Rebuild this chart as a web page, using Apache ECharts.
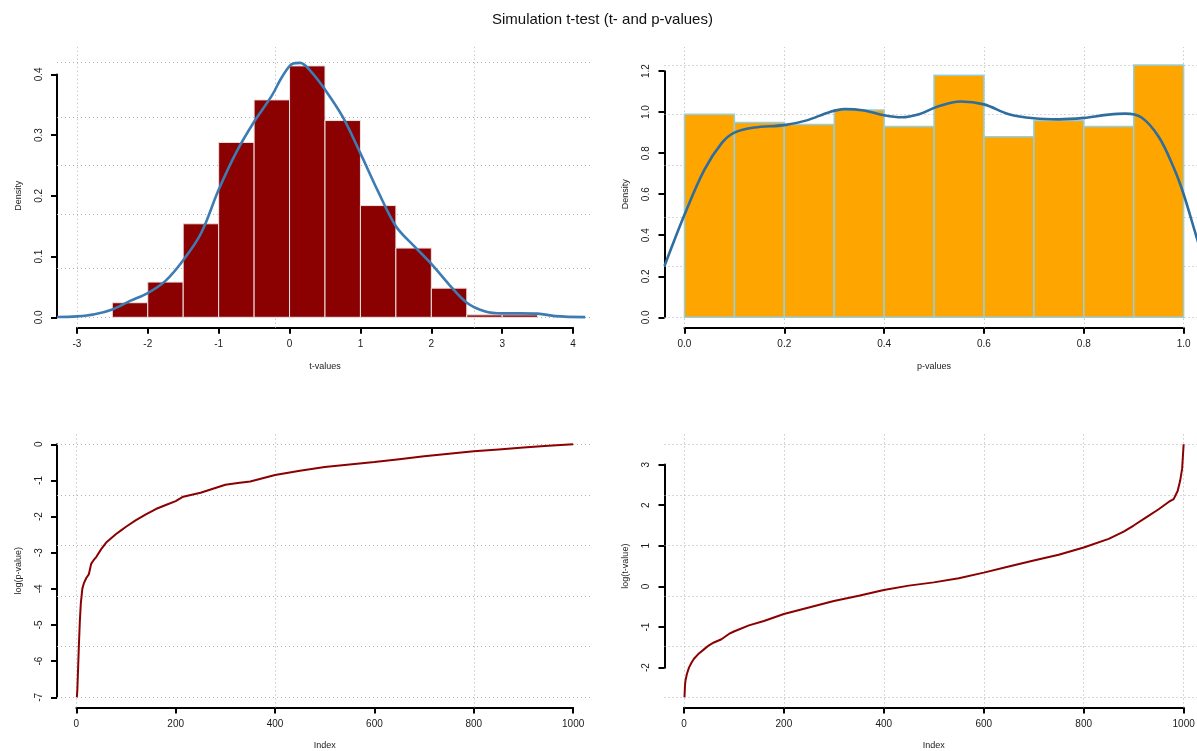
<!DOCTYPE html>
<html><head><meta charset="utf-8">
<script src="https://cdn.jsdelivr.net/npm/echarts@6/dist/echarts.min.js"></script>
<style>html,body{margin:0;padding:0;background:#fff}#c{width:1197px;height:751px}</style>
</head><body><div id="c"></div>
<script>
// ---------------- data ----------------
const chartTitle = 'Simulation t-test (t- and p-values)';

// top-left: histogram of t-values (density scale)
const tBinEdges = [-2.5, -2, -1.5, -1, -0.5, 0, 0.5, 1, 1.5, 2, 2.5, 3, 3.5];
const tDensity  = [0.024, 0.058, 0.154, 0.288, 0.358, 0.414, 0.324, 0.184, 0.114, 0.048, 0.004, 0.004];
const tKdeX = [-3.28, -3.0, -2.75, -2.5, -2.25, -2.0, -1.75, -1.5, -1.25, -1.0, -0.75, -0.5, -0.25, -0.1, 0.05, 0.15, 0.3, 0.5, 0.75, 1.0, 1.25, 1.5, 1.75, 2.0, 2.25, 2.5, 2.75, 3.0, 3.25, 3.5, 3.75, 4.17];
const tKdeY = [0.0005, 0.0015, 0.005, 0.013, 0.027, 0.04, 0.06, 0.094, 0.138, 0.21, 0.272, 0.322, 0.365, 0.397, 0.418, 0.419, 0.405, 0.375, 0.33, 0.27, 0.207, 0.15, 0.118, 0.088, 0.054, 0.024, 0.01, 0.0065, 0.0065, 0.006, 0.002, 0.0003];
const tTicks = [-3, -2, -1, 0, 1, 2, 3, 4];
const tDensTicks = [0, 0.1, 0.2, 0.3, 0.4];
const tGridX = [-3, -0.2, 2.6];
const tGridY = [0, 0.0833, 0.1667, 0.25, 0.3333, 0.4167];

// top-right: histogram of p-values
const pBinEdges = [0, 0.1, 0.2, 0.3, 0.4, 0.5, 0.6, 0.7, 0.8, 0.9, 1.0];
const pDensity  = [0.99, 0.95, 0.94, 1.01, 0.93, 1.18, 0.88, 0.96, 0.93, 1.23];
const pKdeX = [-0.04, 0.0, 0.04, 0.075, 0.1, 0.14, 0.2, 0.245, 0.29, 0.32, 0.36, 0.4, 0.435, 0.47, 0.505, 0.553, 0.6, 0.65, 0.7, 0.75, 0.8, 0.85, 0.883, 0.915, 0.95, 0.98, 1.0, 1.026, 1.04];
const pKdeY = [0.25, 0.5, 0.72, 0.85, 0.9, 0.925, 0.937, 0.96, 1.0, 1.015, 1.008, 0.985, 0.975, 0.99, 1.025, 1.052, 1.038, 0.99, 0.97, 0.965, 0.972, 0.988, 0.993, 0.975, 0.88, 0.73, 0.6, 0.39, 0.28];
const pTicks = [0, 0.2, 0.4, 0.6, 0.8, 1.0];
const pDensTicks = [0, 0.2, 0.4, 0.6, 0.8, 1.0, 1.2];
const pGridX = [0, 0.2, 0.4, 0.6, 0.8, 1.0];
const pGridY = [0, 0.2466, 0.4932, 0.7398, 0.9864, 1.233];

// bottom-left: sorted log(p-value)
const logPIndex = [1, 2, 4, 5, 7, 9, 12, 15, 20, 25, 30, 35, 40, 50, 60, 70, 80, 90, 100, 120, 140, 160, 180, 200, 215, 250, 300, 325, 350, 400, 450, 500, 550, 600, 650, 700, 750, 800, 850, 900, 950, 1000];
const logPValue = [-7.0, -6.8, -6.0, -5.6, -4.9, -4.4, -4.0, -3.85, -3.7, -3.6, -3.3, -3.2, -3.12, -2.9, -2.72, -2.6, -2.48, -2.38, -2.28, -2.1, -1.94, -1.79, -1.68, -1.57, -1.45, -1.34, -1.12, -1.07, -1.03, -0.85, -0.73, -0.63, -0.56, -0.49, -0.41, -0.33, -0.26, -0.19, -0.14, -0.09, -0.04, 0.0];
const indexTicks = [0, 200, 400, 600, 800, 1000];
const logPTicks = [-7, -6, -5, -4, -3, -2, -1, 0];
const lpGridX = [0, 400, 800];
const lpGridY = [0, -1.4, -2.8, -4.2, -5.6, -7];

// bottom-right: sorted t-values
const logTIndex = [1, 2, 3, 6, 10, 15, 20, 30, 40, 50, 60, 75, 90, 100, 130, 160, 200, 250, 300, 350, 400, 450, 500, 550, 600, 650, 700, 750, 800, 850, 880, 900, 925, 950, 970, 980, 988, 993, 997, 1000];
const logTValue = [-2.73, -2.45, -2.32, -2.15, -2.0, -1.88, -1.78, -1.65, -1.55, -1.45, -1.38, -1.3, -1.17, -1.11, -0.96, -0.85, -0.68, -0.52, -0.36, -0.23, -0.09, 0.02, 0.1, 0.2, 0.34, 0.49, 0.64, 0.78, 0.96, 1.17, 1.35, 1.5, 1.7, 1.9, 2.08, 2.15, 2.35, 2.6, 2.9, 3.5];
const logTTicks = [-2, -1, 0, 1, 2, 3];
const ltGridX = [0, 200, 400, 600, 800, 1000];
const ltGridY = [-2.73, -1.484, -0.238, 1.008, 2.254, 3.5];

// ---------------- chart ----------------
const FONT = '"Liberation Sans", Arial, Helvetica, sans-serif';
const zip = (a, b) => a.map((v, i) => [v, b[i]]);
const bins = (edges, dens) => dens.map((d, i) => [edges[i], edges[i + 1], d]);

const panels = [
  {rect: {left: 57, top: 47, width: 536, height: 280.7}, xr: [-3.28, 4.28], yr: [-0.01712, 0.44512],
   xt: tTicks, yt: tDensTicks, xDec: 0, yDec: 1, xName: 't-values', yName: 'Density'},
  {rect: {left: 664.5, top: 47, width: 539.1, height: 280.7}, xr: [-0.04, 1.04], yr: [-0.0507, 1.3177],
   xt: pTicks, yt: pDensTicks, xDec: 1, yDec: 1, xName: 'p-values', yName: 'Density'},
  {rect: {left: 57, top: 434.2, width: 536, height: 273.2}, xr: [-38.96, 1039.96], yr: [-7.28, 0.28],
   xt: indexTicks, yt: logPTicks, xDec: 0, yDec: 0, xName: 'Index', yName: 'log(p-value)'},
  {rect: {left: 664.5, top: 434.2, width: 539.1, height: 273.2}, xr: [-38.96, 1039.96], yr: [-2.979, 3.749],
   xt: indexTicks, yt: logTTicks, xDec: 0, yDec: 0, xName: 'Index', yName: 'log(t-value)'}
];

const axisLineStyle = {color: '#000', width: 2};
const grid = [], xAxis = [], yAxis = [];
panels.forEach((p, i) => {
  const r = p.rect;
  const kx = r.width / (p.xr[1] - p.xr[0]);
  const ky = r.height / (p.yr[1] - p.yr[0]);
  grid.push({left: r.left, top: r.top, width: r.width, height: r.height, outerBoundsMode: 'none'});
  xAxis.push({type: 'value', gridIndex: 3 * i, min: p.xr[0], max: p.xr[1], show: false});
  yAxis.push({type: 'value', gridIndex: 3 * i, min: p.yr[0], max: p.yr[1], show: false});

  const x0 = p.xt[0], x1 = p.xt[p.xt.length - 1];
  grid.push({left: r.left + (x0 - p.xr[0]) * kx, width: (x1 - x0) * kx, top: r.top + r.height - 1, height: 1, outerBoundsMode: 'none'});
  xAxis.push({
    type: 'value', gridIndex: 3 * i + 1, min: x0, max: x1, interval: p.xt[1] - p.xt[0], position: 'bottom',
    name: p.xName, nameLocation: 'middle', nameGap: 34,
    nameTextStyle: {fontSize: 9, color: '#222', fontFamily: FONT},
    axisLine: {show: true, onZero: false, lineStyle: axisLineStyle},
    axisTick: {show: true, length: 6, lineStyle: axisLineStyle},
    splitLine: {show: false},
    axisLabel: {show: true, margin: 12, fontSize: 10, color: '#1a1a1a', fontFamily: FONT, showMinLabel: true, showMaxLabel: true,
      formatter: v => Number(v).toFixed(p.xDec)}
  });
  yAxis.push({type: 'value', gridIndex: 3 * i + 1, show: false, min: 0, max: 1});

  const y0 = p.yt[0], y1 = p.yt[p.yt.length - 1];
  grid.push({left: r.left, width: 1, top: r.top + (p.yr[1] - y1) * ky, height: (y1 - y0) * ky, outerBoundsMode: 'none'});
  xAxis.push({type: 'value', gridIndex: 3 * i + 2, show: false, min: 0, max: 1});
  yAxis.push({
    type: 'value', gridIndex: 3 * i + 2, min: y0, max: y1, interval: p.yt[1] - p.yt[0], position: 'left',
    name: p.yName, nameLocation: 'middle', nameGap: 34,
    nameTextStyle: {fontSize: 9, color: '#222', fontFamily: FONT},
    axisLine: {show: true, onZero: false, lineStyle: axisLineStyle},
    axisTick: {show: true, length: 6, lineStyle: axisLineStyle},
    splitLine: {show: false},
    axisLabel: {show: true, rotate: 90, margin: 13, fontSize: 10, color: '#1a1a1a', fontFamily: FONT, showMinLabel: true, showMaxLabel: true,
      formatter: v => Number(v).toFixed(p.yDec)}
  });
});

function gridLines(xs, ys) {
  return {
    silent: true, symbol: ['none', 'none'], z: 1, animation: false,
    label: {show: false},
    lineStyle: {type: [1, 3], color: '#b0b0b0', width: 1},
    emphasis: {disabled: true},
    data: xs.map(v => ({xAxis: v})).concat(ys.map(v => ({yAxis: v})))
  };
}

function histSeries(idx, data, fill, stroke, lw, gx, gy) {
  return {
    type: 'custom', xAxisIndex: idx, yAxisIndex: idx, z: 2,
    encode: {x: [0, 1], y: 2},
    data: data,
    renderItem: (params, api) => {
      const a = api.coord([api.value(0), api.value(2)]);
      const b = api.coord([api.value(1), 0]);
      return {type: 'rect', shape: {x: a[0], y: a[1], width: b[0] - a[0], height: b[1] - a[1]},
              style: {fill: fill, stroke: stroke, lineWidth: lw}};
    },
    markLine: gridLines(gx, gy)
  };
}

function lineSeries(idx, data, color, width, smooth, z, extra) {
  return Object.assign({
    type: 'line', xAxisIndex: idx, yAxisIndex: idx, z: z, data: data,
    showSymbol: false, symbol: 'none', smooth: smooth,
    lineStyle: {color: color, width: width}, silent: true
  }, extra || {});
}

const series = [
  histSeries(0, bins(tBinEdges, tDensity), '#8B0000', '#ece4e4', 1, tGridX, tGridY),
  lineSeries(0, zip(tKdeX, tKdeY), '#3d7cb3', 2.6, 0.35, 3),
  histSeries(3, bins(pBinEdges, pDensity), '#FFA500', '#93d0e0', 1.5, pGridX, pGridY),
  lineSeries(3, zip(pKdeX, pKdeY), '#2f6d9e', 2.6, 0.35, 3),
  lineSeries(6, zip(logPIndex, logPValue), '#8B0000', 2, false, 3, {markLine: gridLines(lpGridX, lpGridY)}),
  lineSeries(9, zip(logTIndex, logTValue), '#8B0000', 2, false, 3, {markLine: gridLines(ltGridX, ltGridY)})
];

const chart = echarts.init(document.getElementById('c'), null, {renderer: 'canvas'});
chart.setOption({
  backgroundColor: '#fff',
  animation: false,
  title: {text: chartTitle, left: 492, top: 12, padding: 0,
    textStyle: {fontSize: 15, fontWeight: 'normal', color: '#111', fontFamily: FONT}},
  grid: grid, xAxis: xAxis, yAxis: yAxis, series: series
});
</script></body></html>
